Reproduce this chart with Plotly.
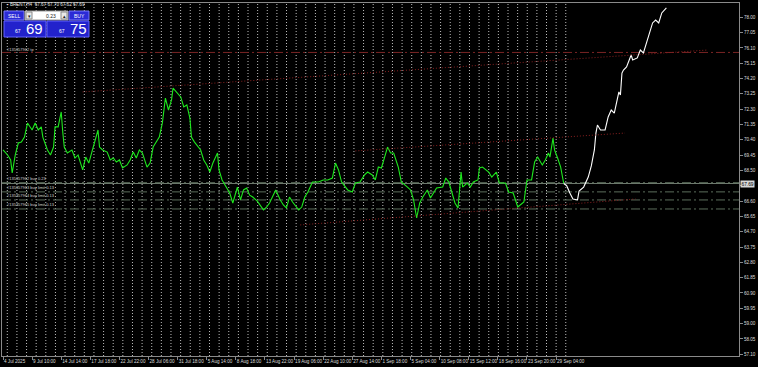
import plotly.graph_objects as go

# ---------------- data (bar index on H4 chart, price) ----------------
close_bar = [0, 3, 5, 6, 8, 10, 12, 14, 16, 19, 21, 23, 25, 26, 29, 31, 33, 34, 36, 38,
             39, 40, 42, 45, 47, 49, 52, 54, 56, 58, 60, 62, 63, 65, 68, 70, 72, 74, 76, 78,
             81, 83, 85, 87, 89, 91, 94, 96, 98, 100, 102, 104, 106, 108, 110, 111, 114, 116, 118, 120,
             122, 123, 125, 129, 131, 133, 135, 137, 140, 141, 143, 146, 148, 150, 153, 155, 157, 159, 161, 163,
             166, 170, 172, 174, 178, 181, 183, 185, 187, 189, 193, 195, 197, 199, 202, 206, 209, 212, 215, 217,
             219, 221, 225, 228, 230, 233, 236, 238, 241, 243, 245, 247, 249, 251, 253, 255, 258, 260, 264, 266,
             268, 270, 272, 274, 277, 279, 281, 283, 287, 289, 291, 293, 295, 297, 299, 300, 303, 305, 307, 310,
             311, 313, 317, 319, 322, 324, 328, 330, 333, 336, 338, 340, 342, 345, 347, 349, 352, 354, 356, 357,
             359, 360, 362, 364, 366]
close_price = [69.77, 69.46, 69.15, 68.34, 69.46, 70.20, 70.26, 70.57, 71.44, 71.01, 71.44, 71.01, 71.20, 70.57, 69.77, 69.46, 69.95, 71.20, 71.20, 72.13,
               70.88, 69.95, 69.58, 69.77, 69.27, 69.46, 68.53, 69.33, 68.96, 69.64, 70.39, 71.01, 69.95, 69.77, 69.64, 69.15, 69.27, 69.02, 69.15, 68.65,
               68.84, 69.15, 69.64, 69.27, 69.77, 69.58, 68.71, 68.96, 69.95, 70.26, 70.57, 71.44, 72.99, 72.25, 72.87, 73.61, 73.30, 73.06, 72.44, 72.56,
               71.75, 70.57, 70.26, 69.77, 69.15, 68.84, 68.40, 68.96, 69.58, 68.53, 67.91, 67.47, 67.10, 66.48, 67.47, 66.67, 67.29, 67.41, 66.97, 66.85,
               66.60, 66.05, 66.23, 66.48, 67.29, 66.67, 66.36, 66.17, 66.85, 66.54, 66.05, 66.23, 66.85, 67.16, 67.78, 67.78, 67.91, 67.91, 68.03, 68.96,
               68.53, 67.78, 67.29, 67.16, 67.72, 67.78, 68.22, 68.40, 68.22, 67.91, 68.71, 68.65, 69.33, 69.95, 69.58, 69.58, 68.71, 67.78, 67.47, 67.29,
               66.67, 65.55, 66.48, 66.85, 67.29, 66.79, 67.10, 67.41, 67.47, 68.03, 67.78, 67.16, 66.48, 66.17, 68.40, 67.47, 67.72, 67.47, 67.78, 67.91,
               68.65, 68.71, 68.40, 68.09, 68.40, 67.72, 67.72, 67.16, 67.10, 66.23, 66.36, 66.54, 67.91, 67.91, 69.02, 69.33, 68.84, 69.15, 69.58, 69.33,
               70.51, 69.77, 69.27, 68.71, 67.69]

forecast_bar = [366, 368, 370, 372, 375, 376, 379, 382, 384, 386, 387, 388, 390, 393, 395, 397, 399, 401, 402, 403,
                404, 405, 407, 410, 411, 414, 416, 418, 420, 422, 424, 426, 428, 430, 433]
forecast_price = [67.69, 67.54, 67.10, 66.73, 66.67, 67.22, 67.47, 68.09, 68.78, 69.77, 70.82, 71.32, 71.01, 71.01, 71.82, 72.25, 72.06, 72.87, 73.37, 73.18,
                  74.54, 74.73, 74.92, 75.66, 75.35, 75.48, 75.97, 75.79, 76.41, 77.03, 77.65, 77.83, 77.65, 78.27, 78.58]

# trend lines: start/end bar and price
trend_bar0 = [52, 230, 194]
trend_price0 = [73.37, 69.71, 65.12]
trend_bar1 = [460, 406, 413]
trend_price1 = [75.97, 70.82, 66.73]

x_tick_bars = [0, 19, 38, 57, 76, 95, 114, 133, 152, 171, 190, 209, 228, 247, 266, 285, 304, 323, 342, 361]
x_tick_text = ["4 Jul 2025", "9 Jul 10:00", "14 Jul 14:00", "17 Jul 18:00", "22 Jul 22:00", "28 Jul 06:00",
               "31 Jul 18:00", "5 Aug 14:00", "8 Aug 18:00", "13 Aug 22:00", "19 Aug 06:00", "22 Aug 10:00",
               "27 Aug 14:00", "1 Sep 18:00", "5 Sep 04:00", "10 Sep 08:00", "15 Sep 12:00", "18 Sep 16:00",
               "23 Sep 20:00", "29 Sep 04:00"]
y_tick_vals = [78.00, 77.05, 76.10, 75.15, 74.20, 73.25, 72.30, 71.35, 70.40, 69.45, 68.50, 67.55,
               66.60, 65.65, 64.70, 63.75, 62.80, 61.85, 60.90, 59.95, 59.00, 58.05, 57.10]
bid_price = 67.69
# the tick label hidden under the current-price box is left blank
y_tick_text = ["" if abs(v - bid_price) < 0.3 else "%.2f" % v for v in y_tick_vals]

tp_price = 75.82
tp_label = "#135357962 tp"
order_prices = [67.74, 67.17, 66.67, 66.11]
order_labels = ["#135357962 buy 0.23", "#135357963 buy limit 0.13",
                "#135357964 buy limit 0.13", "#135357965 buy limit 0.13"]
header_text = "▪ BRENT,H4  67.67 67.70 67.62 67.69"
lot_text = "0.23"
sell_big, sell_small = "69", "67"
buy_big, buy_small = "75", "67"

# ---------------- layout geometry ----------------
W, H = 758, 367
ML, MR, MT, MB = 2, 19, 3, 11
PW, PH = W - ML - MR, H - MT - MB
X_RANGE = [-0.653, 480.4]
Y_RANGE = [56.989, 78.887]
GRID_START, GRID_STEP, GRID_N = 2.8, 6.285, 59
FONT = "Liberation Sans"


def px(x):
    return (x - ML) / PW


def py(y):
    return 1 - (y - MT) / PH


fig = go.Figure()

fig.add_trace(go.Scatter(x=close_bar, y=close_price, mode="lines",
                         line=dict(color="#1ee81e", width=1.1), hoverinfo="skip"))
fig.add_trace(go.Scatter(x=forecast_bar, y=forecast_price, mode="lines",
                         line=dict(color="#ffffff", width=1.1), hoverinfo="skip"))
for b0, p0, b1, p1 in zip(trend_bar0, trend_price0, trend_bar1, trend_price1):
    fig.add_trace(go.Scatter(x=[b0, b1], y=[p0, p1], mode="lines",
                             line=dict(color="#8a2020", width=1, dash="1px,2px"), hoverinfo="skip"))

shapes = []
# vertical dotted grid
for k in range(GRID_N):
    gx = GRID_START + k * GRID_STEP
    shapes.append(dict(type="line", xref="x", yref="paper", x0=gx, x1=gx, y0=0, y1=1,
                       line=dict(color="#bdbdbd", width=1, dash="1px,2px"), layer="below"))
# bid line
shapes.append(dict(type="line", xref="paper", yref="y", x0=0, x1=1, y0=bid_price, y1=bid_price,
                   line=dict(color="#6f7a6f", width=1), layer="below"))
# order lines
for p in order_prices:
    shapes.append(dict(type="line", xref="paper", yref="y", x0=0, x1=1, y0=p, y1=p,
                       line=dict(color="#5c6e5c", width=1, dash="9px,3px,2px,3px"), layer="below"))
# tp line
shapes.append(dict(type="line", xref="paper", yref="y", x0=0, x1=1, y0=tp_price, y1=tp_price,
                   line=dict(color="#7a2424", width=1, dash="9px,3px,2px,3px"), layer="below"))


def rect(x0, y0, x1, y1, fill, border):
    shapes.append(dict(type="rect", xref="paper", yref="paper", x0=px(x0), x1=px(x1),
                       y0=py(y1), y1=py(y0), fillcolor=fill, line=dict(color=border, width=1), layer="above"))


# one-click trading panel
rect(4, 11, 24, 20, "#2b2bd6", "#7a7aff")
rect(25, 11, 68, 20, "#ffffff", "#9a9a9a")
rect(26, 12, 32, 19, "#e8e8e8", "#8a8a8a")
rect(61, 12, 67, 19, "#e8e8e8", "#8a8a8a")
rect(69, 11, 89, 20, "#2b2bd6", "#7a7aff")
rect(4, 21, 46, 37, "#2222cc", "#6060ff")
rect(47, 21, 89, 37, "#2222cc", "#6060ff")

fig.update_layout(shapes=shapes)

ann = []


def text(x, y, s, size, color="#ffffff", xanchor="center", family=FONT):
    ann.append(dict(xref="paper", yref="paper", x=px(x), y=py(y), text=s, showarrow=False,
                    xanchor=xanchor, yanchor="middle", font=dict(size=size, color=color, family=family)))


text(5, 5, header_text, 4.6, "#e8e8e8", "left")
text(14, 15.5, "SELL", 5, "#ffffff")
text(79, 15.5, "BUY", 5, "#ffffff")
text(29, 15.5, "▾", 5, "#202020")
text(64, 15.5, "▴", 5, "#202020")
text(58, 15.5, lot_text, 5, "#202020", "right")
text(23, 31, sell_small, 5, "#ffffff", "right")
text(24, 28.5, sell_big, 15, "#ffffff", "left")
text(67, 31, buy_small, 5, "#ffffff", "right")
text(68, 28.5, buy_big, 15, "#ffffff", "left")

for p, lab in zip(order_prices, order_labels):
    ann.append(dict(xref="paper", yref="y", x=px(5), y=p, yshift=4, text=lab, showarrow=False,
                    xanchor="left", yanchor="middle", font=dict(size=4, color="#cfcfcf", family=FONT)))
ann.append(dict(xref="paper", yref="y", x=px(5), y=tp_price, yshift=3, text=tp_label, showarrow=False,
                xanchor="left", yanchor="middle", font=dict(size=4, color="#cfcfcf", family=FONT)))
# current price box on axis
ann.append(dict(xref="paper", yref="y", x=1, xshift=1, y=bid_price, text="%.2f" % bid_price, showarrow=False,
                xanchor="left", yanchor="middle", bgcolor="#d8d8d8", borderpad=0.5,
                font=dict(size=4.8, color="#000000", family=FONT)))

fig.update_layout(
    annotations=ann,
    width=W, height=H,
    margin=dict(l=ML, r=MR, t=MT, b=MB, pad=0, autoexpand=False),
    paper_bgcolor="#000000", plot_bgcolor="#000000",
    showlegend=False,
    xaxis=dict(range=X_RANGE, showgrid=False, zeroline=False, showline=True, mirror=True,
               linecolor="#8a8a8a", linewidth=1, tickvals=x_tick_bars, ticktext=x_tick_text,
               ticks="outside", ticklen=3, tickcolor="#8a8a8a", ticklabelposition="outside right",
               tickangle=0, automargin=False,
               tickfont=dict(size=4.6, color="#dcdcdc", family=FONT), fixedrange=True),
    yaxis=dict(range=Y_RANGE, side="right", showgrid=False, zeroline=False, showline=True, mirror=True,
               linecolor="#8a8a8a", linewidth=1, tickvals=y_tick_vals, ticktext=y_tick_text,
               ticks="outside", ticklen=3, tickcolor="#8a8a8a", automargin=False,
               tickfont=dict(size=4.6, color="#dcdcdc", family=FONT), fixedrange=True),
)

fig.write_html("out.html")
